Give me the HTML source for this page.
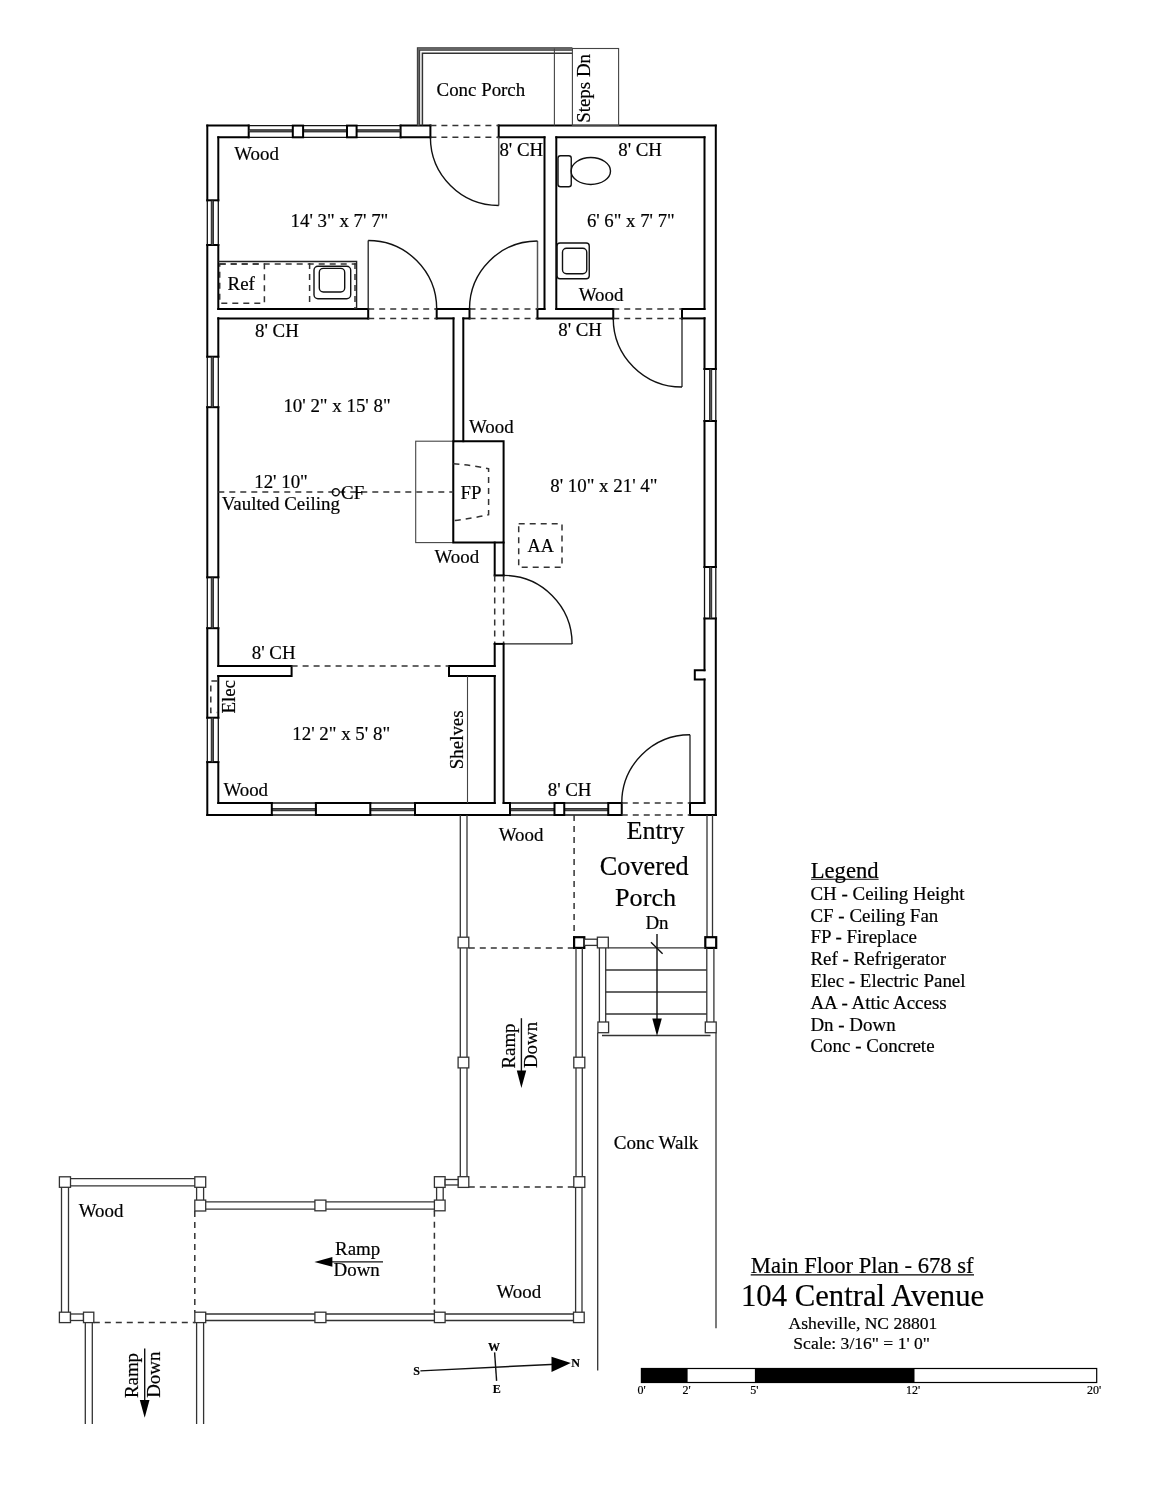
<!DOCTYPE html>
<html><head><meta charset="utf-8"><style>
html,body{margin:0;padding:0;background:#fff;width:1159px;height:1500px;overflow:hidden}
svg{display:block;will-change:transform}
text{font-family:"Liberation Serif",serif;fill:#000;stroke:#000;stroke-width:0.2}
.w{stroke:#000;stroke-width:2;fill:none;stroke-linecap:square}
.wl{stroke:#111;stroke-width:1.3;fill:none}
.wc{fill:#555;stroke:#111;stroke-width:0.8}
.m{fill:#fff;stroke:#000;stroke-width:2}
.d{stroke:#333;stroke-width:1.5;fill:none;stroke-dasharray:6 5}
.dr{stroke:#333;stroke-width:1.5;fill:none;stroke-dasharray:6 5}
.t{stroke:#444;stroke-width:1.1;fill:none}
.a{stroke:#111;stroke-width:1.4;fill:none}
.r{stroke:#333;stroke-width:1.3;fill:none}
.lf{stroke:#222;stroke-width:1.3;fill:none}
.lg{stroke:#555;stroke-width:1.5;fill:none}
.ul{stroke:#000;stroke-width:1.1}
.rg{stroke:#666;stroke-width:1.6;fill:none}
.t2{stroke:#333;stroke-width:1.5;fill:none}
.c{stroke:#222;stroke-width:1.4;fill:none}
.p{stroke:#333;stroke-width:1.3;fill:#fff}
.pd{stroke:#000;stroke-width:2.2;fill:#fff}
.f{fill:#000;stroke:none}
.sb{stroke:#000;stroke-width:1.2;fill:#fff}
</style></head><body>
<svg width="1159" height="1500" viewBox="0 0 1159 1500">
<line class="w" x1="207.3" y1="125.6" x2="248.7" y2="125.6"/>
<line class="w" x1="400.6" y1="125.6" x2="430.4" y2="125.6"/>
<line class="w" x1="498.7" y1="125.6" x2="715.8" y2="125.6"/>
<line class="w" x1="218.3" y1="137.3" x2="248.7" y2="137.3"/>
<line class="w" x1="248.7" y1="125.6" x2="248.7" y2="137.3"/>
<line class="w" x1="400.6" y1="125.6" x2="400.6" y2="137.3"/>
<line class="w" x1="400.6" y1="137.3" x2="430.4" y2="137.3"/>
<line class="w" x1="430.4" y1="125.6" x2="430.4" y2="137.3"/>
<line class="w" x1="498.7" y1="125.6" x2="498.7" y2="137.3"/>
<line class="w" x1="498.7" y1="137.3" x2="544.5" y2="137.3"/>
<line class="w" x1="556.3" y1="137.3" x2="704.5" y2="137.3"/>
<line class="wl" x1="248.7" y1="125.6" x2="292.8" y2="125.6"/>
<line class="wl" x1="248.7" y1="137.3" x2="292.8" y2="137.3"/>
<rect class="wc" x="248.7" y="129.75" width="44.10000000000002" height="2.2"/>
<line class="wl" x1="303.1" y1="125.6" x2="347" y2="125.6"/>
<line class="wl" x1="303.1" y1="137.3" x2="347" y2="137.3"/>
<rect class="wc" x="303.1" y="129.75" width="43.89999999999998" height="2.2"/>
<line class="wl" x1="356.6" y1="125.6" x2="400.6" y2="125.6"/>
<line class="wl" x1="356.6" y1="137.3" x2="400.6" y2="137.3"/>
<rect class="wc" x="356.6" y="129.75" width="44.0" height="2.2"/>
<rect class="m" x="292.8" y="125.6" width="10.3" height="11.700000000000017"/>
<rect class="m" x="347" y="125.6" width="9.6" height="11.700000000000017"/>
<line class="d" x1="430.4" y1="125.6" x2="498.7" y2="125.6"/>
<line class="d" x1="430.4" y1="137.3" x2="498.7" y2="137.3"/>
<line class="w" x1="207.3" y1="125.6" x2="207.3" y2="200.3"/>
<line class="w" x1="207.3" y1="245" x2="207.3" y2="356.7"/>
<line class="w" x1="207.3" y1="407.2" x2="207.3" y2="577.3"/>
<line class="w" x1="207.3" y1="628.2" x2="207.3" y2="717.7"/>
<line class="w" x1="207.3" y1="762.1" x2="207.3" y2="815"/>
<line class="w" x1="218.3" y1="137.3" x2="218.3" y2="200.3"/>
<line class="w" x1="218.3" y1="245" x2="218.3" y2="309"/>
<line class="w" x1="218.3" y1="318.2" x2="218.3" y2="356.7"/>
<line class="w" x1="218.3" y1="407.2" x2="218.3" y2="577.3"/>
<line class="w" x1="218.3" y1="628.2" x2="218.3" y2="666"/>
<line class="w" x1="218.3" y1="676" x2="218.3" y2="717.7"/>
<line class="w" x1="218.3" y1="762.1" x2="218.3" y2="803"/>
<line class="w" x1="207.3" y1="200.3" x2="218.3" y2="200.3"/>
<line class="w" x1="207.3" y1="245" x2="218.3" y2="245"/>
<line class="wl" x1="207.3" y1="200.3" x2="207.3" y2="245"/>
<line class="wl" x1="218.3" y1="200.3" x2="218.3" y2="245"/>
<rect class="wc" x="211.20000000000002" y="200.3" width="2.2" height="44.69999999999999"/>
<line class="w" x1="207.3" y1="356.7" x2="218.3" y2="356.7"/>
<line class="w" x1="207.3" y1="407.2" x2="218.3" y2="407.2"/>
<line class="wl" x1="207.3" y1="356.7" x2="207.3" y2="407.2"/>
<line class="wl" x1="218.3" y1="356.7" x2="218.3" y2="407.2"/>
<rect class="wc" x="211.20000000000002" y="356.7" width="2.2" height="50.5"/>
<line class="w" x1="207.3" y1="577.3" x2="218.3" y2="577.3"/>
<line class="w" x1="207.3" y1="628.2" x2="218.3" y2="628.2"/>
<line class="wl" x1="207.3" y1="577.3" x2="207.3" y2="628.2"/>
<line class="wl" x1="218.3" y1="577.3" x2="218.3" y2="628.2"/>
<rect class="wc" x="211.20000000000002" y="577.3" width="2.2" height="50.90000000000009"/>
<line class="w" x1="207.3" y1="717.7" x2="218.3" y2="717.7"/>
<line class="w" x1="207.3" y1="762.1" x2="218.3" y2="762.1"/>
<line class="wl" x1="207.3" y1="717.7" x2="207.3" y2="762.1"/>
<line class="wl" x1="218.3" y1="717.7" x2="218.3" y2="762.1"/>
<rect class="wc" x="211.20000000000002" y="717.7" width="2.2" height="44.39999999999998"/>
<path class="d" d="M217.4 681 H210.8 V712.5 H217.4"/>
<line class="w" x1="715.8" y1="125.6" x2="715.8" y2="369"/>
<line class="w" x1="715.8" y1="421" x2="715.8" y2="567"/>
<line class="w" x1="715.8" y1="618.5" x2="715.8" y2="815"/>
<line class="w" x1="704.5" y1="137.3" x2="704.5" y2="309"/>
<line class="w" x1="704.5" y1="318.2" x2="704.5" y2="369"/>
<line class="w" x1="704.5" y1="421" x2="704.5" y2="567"/>
<line class="w" x1="704.5" y1="618.5" x2="704.5" y2="670.2"/>
<line class="w" x1="704.5" y1="679.5" x2="704.5" y2="803"/>
<line class="w" x1="704.5" y1="369" x2="715.8" y2="369"/>
<line class="w" x1="704.5" y1="421" x2="715.8" y2="421"/>
<line class="wl" x1="715.8" y1="369" x2="715.8" y2="421"/>
<line class="wl" x1="704.5" y1="369" x2="704.5" y2="421"/>
<rect class="wc" x="709.55" y="369" width="2.2" height="52"/>
<line class="w" x1="704.5" y1="567" x2="715.8" y2="567"/>
<line class="w" x1="704.5" y1="618.5" x2="715.8" y2="618.5"/>
<line class="wl" x1="715.8" y1="567" x2="715.8" y2="618.5"/>
<line class="wl" x1="704.5" y1="567" x2="704.5" y2="618.5"/>
<rect class="wc" x="709.55" y="567" width="2.2" height="51.5"/>
<path class="w" d="M704.5 670.2 H694.8 V679.5 H704.5"/>
<line class="w" x1="207.3" y1="815" x2="271.8" y2="815"/>
<line class="w" x1="315.9" y1="815" x2="370.3" y2="815"/>
<line class="w" x1="415" y1="815" x2="510" y2="815"/>
<line class="w" x1="690" y1="815" x2="715.8" y2="815"/>
<line class="w" x1="218.3" y1="803" x2="271.8" y2="803"/>
<line class="w" x1="315.9" y1="803" x2="370.3" y2="803"/>
<line class="w" x1="415" y1="803" x2="494.7" y2="803"/>
<line class="w" x1="503.6" y1="803" x2="510" y2="803"/>
<line class="w" x1="690" y1="803" x2="704.5" y2="803"/>
<line class="wl" x1="271.8" y1="815" x2="315.9" y2="815"/>
<line class="wl" x1="271.8" y1="803" x2="315.9" y2="803"/>
<rect class="wc" x="271.8" y="808.6" width="44.099999999999966" height="2.2"/>
<line class="wl" x1="370.3" y1="815" x2="415" y2="815"/>
<line class="wl" x1="370.3" y1="803" x2="415" y2="803"/>
<rect class="wc" x="370.3" y="808.6" width="44.69999999999999" height="2.2"/>
<line class="wl" x1="510" y1="815" x2="554.5" y2="815"/>
<line class="wl" x1="510" y1="803" x2="554.5" y2="803"/>
<rect class="wc" x="510" y="808.6" width="44.5" height="2.2"/>
<line class="wl" x1="564.25" y1="815" x2="608.25" y2="815"/>
<line class="wl" x1="564.25" y1="803" x2="608.25" y2="803"/>
<rect class="wc" x="564.25" y="808.6" width="44.0" height="2.2"/>
<line class="w" x1="271.8" y1="803" x2="271.8" y2="815"/>
<line class="w" x1="315.9" y1="803" x2="315.9" y2="815"/>
<line class="w" x1="370.3" y1="803" x2="370.3" y2="815"/>
<line class="w" x1="415" y1="803" x2="415" y2="815"/>
<line class="w" x1="510" y1="803" x2="510" y2="815"/>
<rect class="m" x="554.5" y="803" width="9.75" height="12"/>
<rect class="m" x="608.25" y="803" width="13.5" height="12"/>
<line class="w" x1="690" y1="803" x2="690" y2="815"/>
<line class="d" x1="621.75" y1="803" x2="690" y2="803"/>
<line class="d" x1="621.75" y1="815" x2="690" y2="815"/>
<line class="w" x1="218.3" y1="309" x2="368.2" y2="309"/>
<line class="w" x1="436.7" y1="309" x2="469.5" y2="309"/>
<line class="w" x1="537.5" y1="309" x2="544.5" y2="309"/>
<line class="w" x1="556.3" y1="309" x2="613.25" y2="309"/>
<line class="w" x1="682" y1="309" x2="704.5" y2="309"/>
<line class="w" x1="218.3" y1="318.4" x2="368.2" y2="318.4"/>
<line class="w" x1="436.7" y1="318.4" x2="453.5" y2="318.4"/>
<line class="w" x1="463.3" y1="318.4" x2="469.5" y2="318.4"/>
<line class="w" x1="537.5" y1="318.4" x2="613.25" y2="318.4"/>
<line class="w" x1="682" y1="318.4" x2="704.5" y2="318.4"/>
<line class="w" x1="368.2" y1="309" x2="368.2" y2="318.4"/>
<line class="w" x1="436.7" y1="309" x2="436.7" y2="318.4"/>
<line class="w" x1="469.5" y1="309" x2="469.5" y2="318.4"/>
<line class="w" x1="537.5" y1="309" x2="537.5" y2="318.4"/>
<line class="w" x1="613.25" y1="309" x2="613.25" y2="318.4"/>
<line class="w" x1="682" y1="309" x2="682" y2="318.4"/>
<line class="d" x1="368.2" y1="309" x2="436.7" y2="309"/>
<line class="d" x1="368.2" y1="318.4" x2="436.7" y2="318.4"/>
<line class="d" x1="469.5" y1="309" x2="537.5" y2="309"/>
<line class="d" x1="469.5" y1="318.4" x2="537.5" y2="318.4"/>
<line class="d" x1="613.25" y1="309" x2="682" y2="309"/>
<line class="d" x1="613.25" y1="318.4" x2="682" y2="318.4"/>
<line class="w" x1="544.5" y1="137.3" x2="544.5" y2="309"/>
<line class="w" x1="556.3" y1="137.3" x2="556.3" y2="309"/>
<line class="w" x1="453.5" y1="318.4" x2="453.5" y2="441.2"/>
<line class="w" x1="463.3" y1="318.4" x2="463.3" y2="441.2"/>
<rect class="t" x="415.7" y="441.2" width="37.6" height="101.4"/>
<path class="w" d="M453.3 441.2 H503.6 V542.6 H453.3 Z"/>
<path class="d" d="M453.3 463.7 Q472 465 488.6 468.8 V514.7 Q472 518.5 453.3 520.6"/>
<line class="w" x1="494.7" y1="542.6" x2="494.7" y2="575.4"/>
<line class="w" x1="503.6" y1="542.6" x2="503.6" y2="575.4"/>
<line class="w" x1="494.7" y1="575.4" x2="503.6" y2="575.4"/>
<line class="d" x1="494.7" y1="575.4" x2="494.7" y2="643.9"/>
<line class="d" x1="503.6" y1="575.4" x2="503.6" y2="643.9"/>
<line class="w" x1="494.7" y1="643.9" x2="503.6" y2="643.9"/>
<line class="w" x1="494.7" y1="643.9" x2="494.7" y2="666"/>
<line class="w" x1="494.7" y1="676" x2="494.7" y2="803"/>
<line class="w" x1="503.6" y1="643.9" x2="503.6" y2="803"/>
<path class="w" d="M218.3 666 H291.6 V676 H218.3"/>
<path class="w" d="M494.7 666 H449 V676 H494.7"/>
<line class="d" x1="291.6" y1="666" x2="449" y2="666"/>
<line class="t" x1="467.5" y1="676" x2="467.5" y2="803"/>
<line class="lg" x1="498.7" y1="137.3" x2="498.7" y2="205.5"/>
<path class="a" d="M430.4 137.3 A68.3 68.3 0 0 0 498.7 205.5"/>
<line class="lf" x1="368.2" y1="240.5" x2="368.2" y2="309"/>
<path class="a" d="M368.2 240.5 A68.5 68.5 0 0 1 436.7 309"/>
<line class="lg" x1="537.5" y1="241" x2="537.5" y2="309"/>
<path class="a" d="M469.5 309 A68 68 0 0 1 537.5 241"/>
<line class="lf" x1="682" y1="318.4" x2="682" y2="387"/>
<path class="a" d="M613.25 318.4 A68.75 68.75 0 0 0 682 387"/>
<line class="lf" x1="503.6" y1="643.9" x2="572.1" y2="643.9"/>
<path class="a" d="M503.6 575.4 A68.5 68.5 0 0 1 572.1 643.9"/>
<line class="lf" x1="690" y1="734.8" x2="690" y2="803"/>
<path class="a" d="M621.75 803 A68.25 68.25 0 0 1 690 734.8"/>
<path class="c" d="M218.3 261.5 H356.6 V309"/>
<path class="d" d="M219.7 264 H356.3"/>
<rect class="dr" x="219.7" y="264" width="44.7" height="39.2"/>
<line class="d" x1="309.6" y1="263.1" x2="309.6" y2="303.2"/>
<path class="d" d="M355 263.1 V309"/>
<rect class="a" x="314" y="266.2" width="36.7" height="32.5" rx="4"/>
<rect class="a" x="319.3" y="268.4" width="25.4" height="23.6" rx="4"/>
<rect class="a" x="558" y="155.75" width="13.25" height="31" rx="2.5"/>
<ellipse class="a" cx="590.8" cy="171" rx="19.7" ry="13.5"/>
<rect class="a" x="557" y="243" width="32.25" height="35.75" rx="3"/>
<rect class="a" x="562.5" y="248.25" width="24.25" height="25.5" rx="4"/>
<rect class="dr" x="518.7" y="523.8" width="43.3" height="43.4"/>
<line class="d" x1="218.3" y1="492.1" x2="453.3" y2="492.1"/>
<circle class="a" cx="335.8" cy="492.3" r="3.5"/>
<path class="r" d="M417.5 125.5 V48 H572.4"/>
<path class="r" d="M419.5 125.5 V50 H572.4"/>
<path class="rg" d="M418.5 125.5 V49 H572.4"/>
<path class="t2" d="M422.4 125.5 V53.2 H572.4"/>
<line class="t" x1="554.4" y1="48.5" x2="554.4" y2="125.5"/>
<rect class="t" x="572.4" y="48.5" width="46.2" height="77"/>
<line class="r" x1="460.3" y1="815" x2="460.3" y2="937.2"/>
<line class="r" x1="467" y1="815" x2="467" y2="937.2"/>
<rect class="p" x="458.1" y="937.2" width="10.7" height="10.7"/>
<line class="r" x1="460.3" y1="947.9" x2="460.3" y2="1057.2"/>
<line class="r" x1="467" y1="947.9" x2="467" y2="1057.2"/>
<rect class="p" x="458.1" y="1057.2" width="10.7" height="10.7"/>
<line class="r" x1="460.3" y1="1067.9" x2="460.3" y2="1176.7"/>
<line class="r" x1="467" y1="1067.9" x2="467" y2="1176.7"/>
<rect class="p" x="458.1" y="1176.7" width="10.7" height="10.7"/>
<line class="d" x1="574.1" y1="815" x2="574.1" y2="937.2"/>
<line class="d" x1="468.8" y1="947.9" x2="574.1" y2="947.9"/>
<rect class="pd" x="574.1" y="937.2" width="10.2" height="10.7"/>
<rect class="p" x="584.3" y="939.2" width="13.1" height="6.2"/>
<rect class="p" x="597.4" y="937.2" width="10.9" height="10.7"/>
<line class="r" x1="576" y1="947.9" x2="576" y2="1057.2"/>
<line class="r" x1="582.3" y1="947.9" x2="582.3" y2="1057.2"/>
<rect class="p" x="573.8" y="1057.2" width="11" height="10.7"/>
<line class="r" x1="576" y1="1067.9" x2="576" y2="1176.7"/>
<line class="r" x1="582.3" y1="1067.9" x2="582.3" y2="1176.7"/>
<rect class="p" x="573.8" y="1176.7" width="11" height="10.7"/>
<line class="r" x1="707" y1="815" x2="707" y2="937.2"/>
<line class="r" x1="712.5" y1="815" x2="712.5" y2="937.2"/>
<rect class="pd" x="705.3" y="937.2" width="10.9" height="10.7"/>
<line class="r" x1="599.4" y1="947.9" x2="599.4" y2="1022"/>
<line class="r" x1="605.7" y1="947.9" x2="605.7" y2="1022"/>
<line class="r" x1="706.8" y1="947.9" x2="706.8" y2="1022"/>
<line class="r" x1="713.9" y1="947.9" x2="713.9" y2="1022"/>
<line class="r" x1="608.3" y1="947.9" x2="705.3" y2="947.9"/>
<line class="r" x1="605.7" y1="970" x2="706.8" y2="970"/>
<line class="r" x1="605.7" y1="992" x2="706.8" y2="992"/>
<line class="r" x1="605.7" y1="1014" x2="706.8" y2="1014"/>
<rect class="p" x="597.9" y="1022" width="10.7" height="10.7"/>
<rect class="p" x="705.3" y="1022" width="10.9" height="10.7"/>
<line class="r" x1="602" y1="1035.5" x2="710.5" y2="1035.5"/>
<line class="a" x1="657" y1="934" x2="657" y2="1020"/>
<path class="f" d="M652.3 1018.4 L661.8 1018.4 L657 1036 Z"/>
<line class="a" x1="651" y1="942.3" x2="662.6" y2="953.7"/>
<line class="r" x1="597.7" y1="1032.7" x2="597.7" y2="1370.6"/>
<line class="r" x1="716" y1="1032.7" x2="716" y2="1328.3"/>
<rect class="p" x="434.4" y="1176.7" width="10.7" height="10.7"/>
<rect class="p" x="445.1" y="1179.5" width="13" height="5.5"/>
<line class="d" x1="468.8" y1="1187" x2="573.8" y2="1187"/>
<line class="r" x1="436.6" y1="1187.4" x2="436.6" y2="1200.1"/>
<line class="r" x1="443.2" y1="1187.4" x2="443.2" y2="1200.1"/>
<rect class="p" x="434.4" y="1200.1" width="10.7" height="10.7"/>
<line class="r" x1="326" y1="1201.9" x2="434.4" y2="1201.9"/>
<line class="r" x1="326" y1="1209.2" x2="434.4" y2="1209.2"/>
<rect class="p" x="314.9" y="1200.1" width="11" height="10.7"/>
<line class="r" x1="205.7" y1="1201.9" x2="314.9" y2="1201.9"/>
<line class="r" x1="205.7" y1="1209.2" x2="314.9" y2="1209.2"/>
<rect class="p" x="194.8" y="1200.1" width="10.9" height="10.9"/>
<line class="r" x1="196.6" y1="1187.4" x2="196.6" y2="1200.1"/>
<line class="r" x1="203.6" y1="1187.4" x2="203.6" y2="1200.1"/>
<rect class="p" x="194.8" y="1176.8" width="10.9" height="10.5"/>
<line class="r" x1="70.5" y1="1178.6" x2="194.8" y2="1178.6"/>
<line class="r" x1="70.5" y1="1185.9" x2="194.8" y2="1185.9"/>
<rect class="p" x="59.4" y="1176.8" width="11.1" height="10.5"/>
<line class="r" x1="61.5" y1="1187.3" x2="61.5" y2="1312.2"/>
<line class="r" x1="68.5" y1="1187.3" x2="68.5" y2="1312.2"/>
<rect class="p" x="59.4" y="1312.2" width="11.1" height="10.4"/>
<rect class="p" x="70.5" y="1314" width="13" height="6.5"/>
<rect class="p" x="83.5" y="1312.2" width="10.3" height="10.4"/>
<line class="d" x1="93.8" y1="1322.6" x2="194.8" y2="1322.6"/>
<line class="d" x1="194.8" y1="1211" x2="194.8" y2="1312.2"/>
<line class="d" x1="434.4" y1="1210.8" x2="434.4" y2="1312"/>
<rect class="p" x="194.8" y="1312.2" width="10.9" height="10.4"/>
<line class="r" x1="205.7" y1="1314" x2="314.9" y2="1314"/>
<line class="r" x1="205.7" y1="1320.5" x2="314.9" y2="1320.5"/>
<rect class="p" x="314.9" y="1312.2" width="11" height="10.4"/>
<line class="r" x1="326" y1="1314" x2="434.4" y2="1314"/>
<line class="r" x1="326" y1="1320.5" x2="434.4" y2="1320.5"/>
<rect class="p" x="434.4" y="1312.2" width="10.7" height="10.4"/>
<line class="r" x1="445.1" y1="1314" x2="573.5" y2="1314"/>
<line class="r" x1="445.1" y1="1320.5" x2="573.5" y2="1320.5"/>
<rect class="p" x="573.5" y="1312.2" width="10.7" height="10.4"/>
<line class="r" x1="575.6" y1="1187.4" x2="575.6" y2="1312.2"/>
<line class="r" x1="582" y1="1187.4" x2="582" y2="1312.2"/>
<line class="r" x1="85.3" y1="1322.6" x2="85.3" y2="1424"/>
<line class="r" x1="92.3" y1="1322.6" x2="92.3" y2="1424"/>
<line class="r" x1="196.6" y1="1322.6" x2="196.6" y2="1424"/>
<line class="r" x1="203.6" y1="1322.6" x2="203.6" y2="1424"/>
<text x="436.54" y="95.7" font-size="18.9">Conc Porch</text>
<text transform="translate(590 88.4) rotate(-90)" text-anchor="middle" font-size="18.9">Steps Dn</text>
<text x="234.2" y="160.3" font-size="18.9">Wood</text>
<text x="499.4" y="156.45" font-size="18.9">8' CH</text>
<text x="618.2" y="156.45" font-size="18.9">8' CH</text>
<text x="290.5" y="227.2" font-size="18.9">14' 3&quot; x 7' 7&quot;</text>
<text x="586.9" y="227.3" font-size="18.8">6' 6&quot; x 7' 7&quot;</text>
<text x="227.6" y="290.4" font-size="18.9">Ref</text>
<text x="578.75" y="301.45" font-size="18.9">Wood</text>
<text x="255" y="336.7" font-size="18.9">8' CH</text>
<text x="558.2" y="336.2" font-size="18.9">8' CH</text>
<text x="283.4" y="411.8" font-size="18.9">10' 2&quot; x 15' 8&quot;</text>
<text x="469" y="433.2" font-size="18.9">Wood</text>
<text x="254.2" y="487.7" font-size="18.9">12' 10&quot;</text>
<text x="221.8" y="509.7" font-size="18.9">Vaulted Ceiling</text>
<text x="341.1" y="499.3" font-size="18.9">CF</text>
<text x="460.6" y="499.3" font-size="18.9">FP</text>
<text x="550.2" y="491.95" font-size="18.9">8' 10&quot; x 21' 4&quot;</text>
<text x="527.6" y="552.1" font-size="18.2">AA</text>
<text x="434.5" y="563.2" font-size="18.9">Wood</text>
<text x="251.8" y="658.7" font-size="18.9">8' CH</text>
<text transform="translate(234.9 696.8) rotate(-90)" text-anchor="middle" font-size="18.9">Elec</text>
<text x="292.3" y="739.6" font-size="18.9">12' 2&quot; x 5' 8&quot;</text>
<text transform="translate(463 739.8) rotate(-90)" text-anchor="middle" font-size="18.9">Shelves</text>
<text x="223.4" y="796.2" font-size="18.9">Wood</text>
<text x="547.7" y="796.45" font-size="18.9">8' CH</text>
<text x="498.75" y="840.7" font-size="18.9">Wood</text>
<text x="626.5" y="839.4" font-size="26.2">Entry</text>
<text x="599.7" y="875.1" font-size="26.3">Covered</text>
<text x="615" y="906.2" font-size="26.2">Porch</text>
<text x="645.4" y="929.3" font-size="18.9">Dn</text>
<text transform="translate(514.6 1046) rotate(-90)" text-anchor="middle" font-size="18.9">Ramp</text>
<text transform="translate(536.5 1045) rotate(-90)" text-anchor="middle" font-size="18.9">Down</text>
<line class="a" x1="521.4" y1="1018.2" x2="521.4" y2="1072"/>
<path class="f" d="M516.8 1070.4 L526.2 1070.4 L521.4 1088 Z"/>
<text x="613.8" y="1149.2" font-size="19.1">Conc Walk</text>
<text x="78.8" y="1217.1" font-size="18.9">Wood</text>
<text x="335.1" y="1255.2" font-size="18.9">Ramp</text>
<text x="333.6" y="1276.4" font-size="18.9">Down</text>
<line class="a" x1="330" y1="1261.9" x2="383" y2="1261.9"/>
<path class="f" d="M332.4 1257.1 L332.4 1266.7 L314.4 1261.9 Z"/>
<text x="496.5" y="1297.5" font-size="18.9">Wood</text>
<text transform="translate(137.5 1375.5) rotate(-90)" text-anchor="middle" font-size="18.9">Ramp</text>
<text transform="translate(159.7 1374.7) rotate(-90)" text-anchor="middle" font-size="18.9">Down</text>
<line class="a" x1="144.7" y1="1348.5" x2="144.7" y2="1402"/>
<path class="f" d="M139.8 1400 L149.5 1400 L144.7 1417.8 Z"/>
<text x="810.75" y="878" font-size="22.6">Legend</text>
<line class="ul" x1="811" y1="879.3" x2="878.6" y2="879.3"/>
<text x="810.44" y="900" font-size="18.94">CH - Ceiling Height</text>
<text x="810.44" y="921.8" font-size="18.94">CF - Ceiling Fan</text>
<text x="810.44" y="943.2" font-size="18.94">FP - Fireplace</text>
<text x="810.44" y="964.9" font-size="18.94">Ref - Refrigerator</text>
<text x="810.44" y="986.7" font-size="18.94">Elec - Electric Panel</text>
<text x="810.44" y="1008.7" font-size="18.94">AA - Attic Access</text>
<text x="810.44" y="1030.5" font-size="18.94">Dn - Down</text>
<text x="810.44" y="1051.9" font-size="18.94">Conc - Concrete</text>
<text x="750.85" y="1272.5" font-size="22.58">Main Floor Plan - 678 sf</text>
<line class="ul" x1="750.7" y1="1274.9" x2="974" y2="1274.9"/>
<text x="741" y="1305.9" font-size="30.7">104 Central Avenue</text>
<text x="788.6" y="1328.7" font-size="17.57">Asheville, NC 28801</text>
<text x="793.35" y="1349.4" font-size="17.56">Scale: 3/16&quot; = 1' 0&quot;</text>
<rect class="sb" x="641.4" y="1368.5" width="455.3" height="14"/>
<rect x="641.4" y="1368.5" width="46.2" height="14" fill="#000"/>
<rect x="754.9" y="1368.5" width="159.6" height="14" fill="#000"/>
<text x="637.5" y="1393.8" font-size="12">0'</text>
<text x="682.6" y="1393.8" font-size="12">2'</text>
<text x="750.3" y="1393.8" font-size="12">5'</text>
<text x="906" y="1393.8" font-size="12">12'</text>
<text x="1087" y="1393.8" font-size="12">20'</text>
<line class="a" x1="420.4" y1="1370.9" x2="556" y2="1364.2"/>
<path class="f" d="M551.5 1356.7 L570.8 1363.1 L551.5 1371.9 Z"/>
<line class="a" x1="494.6" y1="1352.4" x2="496.6" y2="1380.9"/>
<text x="413.3" y="1374.8" font-size="12" font-weight="bold">S</text>
<text x="488" y="1351" font-size="12" font-weight="bold">W</text>
<text x="492.8" y="1392.6" font-size="12" font-weight="bold">E</text>
<text x="571.3" y="1366.8" font-size="12" font-weight="bold">N</text>
</svg>
</body></html>
